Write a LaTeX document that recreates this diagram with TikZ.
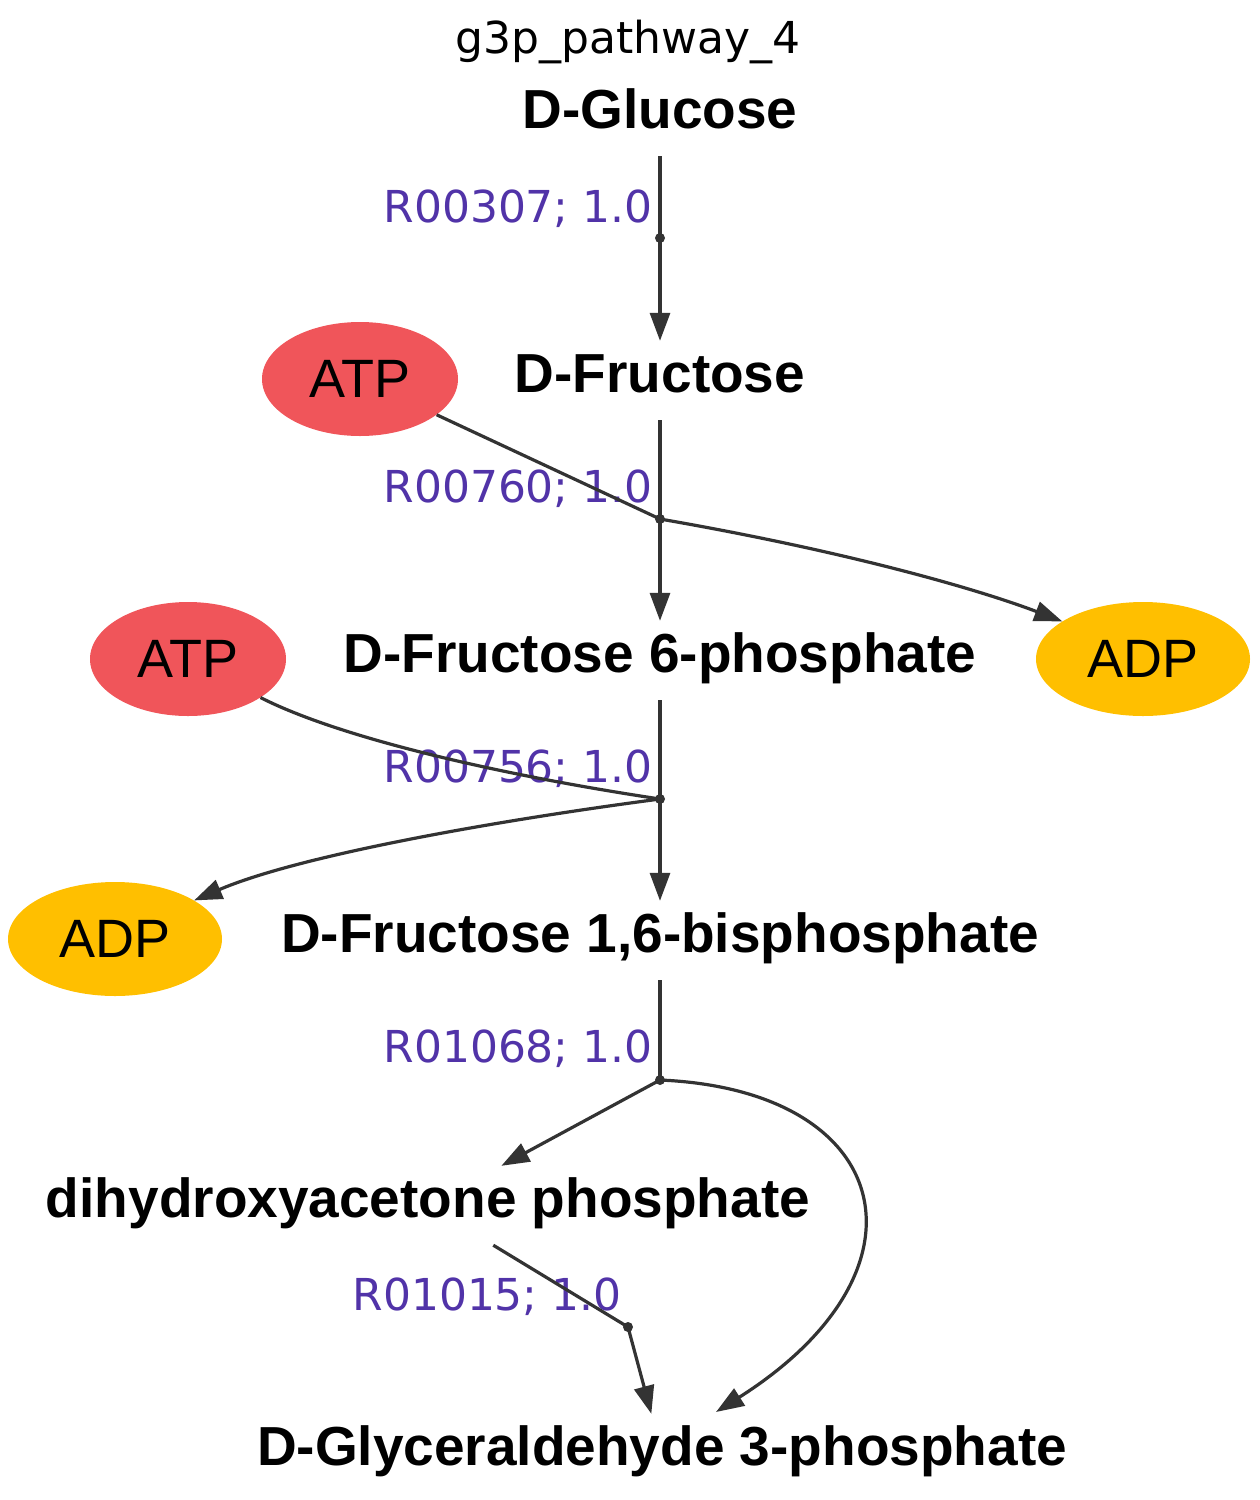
\documentclass[tikz,border=0pt]{standalone}
\usepackage{fontspec}
\setmainfont{Liberation Sans}
\newfontfamily\djv{DejaVu Sans}
\usetikzlibrary{shapes.geometric,arrows.meta}
\definecolor{edgec}{HTML}{333333}
\definecolor{atpc}{HTML}{F0555A}
\definecolor{adpc}{HTML}{FFBF00}
\definecolor{rxnc}{HTML}{5133A8}
\begin{document}
\begin{tikzpicture}[x=1pt,y=-1pt,
  cpd/.style={font=\fontsize{55}{64}\selectfont\bfseries, text height=51pt, text depth=28pt, inner ysep=0pt, inner xsep=4pt, anchor=base},
  atp/.style={ellipse, fill=atpc, minimum width=196pt, minimum height=114pt, inner sep=0pt, font=\fontsize{54}{60}\selectfont},
  adp/.style={ellipse, fill=adpc, minimum width=214pt, minimum height=114pt, inner sep=0pt, font=\fontsize{54}{60}\selectfont},
  rxn/.style={font=\djv\fontsize{44}{50}\selectfont, text=rxnc, anchor=base east, inner sep=0pt},
  ttl/.style={font=\djv\fontsize{44}{50}\selectfont, anchor=base, inner sep=0pt},
  dotc/.style={circle, fill=edgec, inner sep=0pt, minimum size=10pt},
  edge/.style={draw=edgec, line width=3.2pt},
  arr/.style={edge, -{Triangle[length=28pt,width=20pt]}}
]
\useasboundingbox (0,0) rectangle (1259,1500);

\node[ttl] (title) at (628,53) {g3p\_pathway\_4};

% compounds
\node[cpd] (glc) at (660,128) {D-Glucose};
\node[cpd] (fru) at (660,392) {D-Fructose};
\node[cpd] (f6p) at (660,672) {D-Fructose 6-phosphate};
\node[cpd] (fbp) at (660,952) {D-Fructose 1,6-bisphosphate};
\node[cpd] (dhap) at (428,1217) {dihydroxyacetone phosphate};
\node[cpd] (g3p) at (662,1465) {D-Glyceraldehyde 3-phosphate};

% side compounds
\node[atp] (atp1) at (360,379) {ATP};
\node[atp] (atp2) at (188,659) {ATP};
\node[adp] (adp1) at (1143,659) {ADP};
\node[adp] (adp2) at (115,939) {ADP};

% reaction dots
\node[dotc] (d1) at (660,238) {};
\node[dotc] (d2) at (660,519) {};
\node[dotc] (d3) at (660,799) {};
\node[dotc] (d4) at (660,1080) {};
\node[dotc] (d5) at (628,1327) {};
\coordinate (g3tip) at (716,1412);

% reaction labels
\node[rxn] (r1) at (653,222) {R00307; 1.0};
\node[rxn] (r2) at (653,502) {R00760; 1.0};
\node[rxn] (r3) at (653,782) {R00756; 1.0};
\node[rxn] (r4) at (653,1062) {R01068; 1.0};
\node[rxn] (r5) at (622,1310) {R01015; 1.0};

% edges
\draw[edge] (glc.south) -- (d1.center);
\draw[arr] (d1.center) -- (fru.north);

\draw[edge] (fru.south) -- (d2.center);
\draw[edge] (atp1) -- (d2.center);
\draw[arr] (d2.center) -- (f6p.north);
\draw[arr] (d2.center) .. controls (850,552) and (980,590) .. (adp1.155);

\draw[edge] (f6p.south) -- (d3.center);
\draw[edge] (atp2.-28) .. controls (340,738) and (500,775) .. (d3.center);
\draw[arr] (d3.center) -- (fbp.north);
\draw[arr] (d3.center) .. controls (500,820) and (300,855) .. (adp2.26);

\draw[edge] (fbp.south) -- (d4.center);
\draw[arr] (d4.center) -- (dhap);
\draw[arr] (d4.center) .. controls (895,1090) and (940,1270) .. (g3tip);

\draw[edge] (dhap) -- (d5.center);
\draw[arr] (d5.center) -- (g3p);
\end{tikzpicture}
\end{document}
